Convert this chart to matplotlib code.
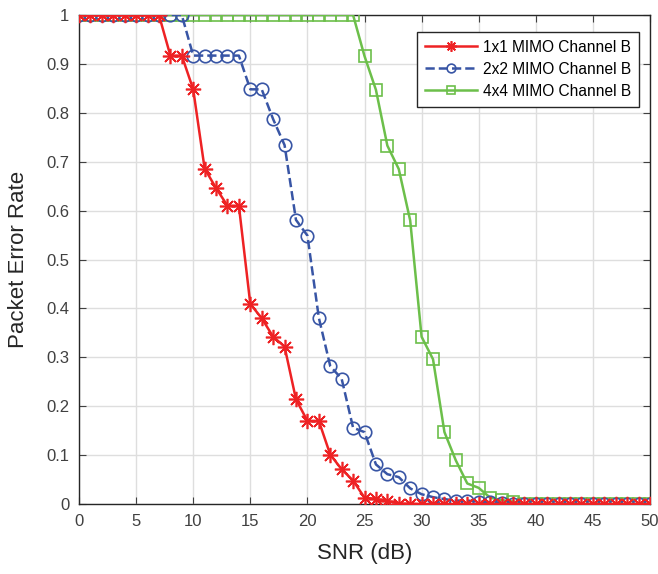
import numpy as np
import matplotlib
matplotlib.use('Agg')
from matplotlib import pyplot as plt

snr = list(range(0, 51))

# packet error rate, 0..50 dB
per_1x1 = [1, 1, 1, 1, 1, 1, 1, 1, 0.917, 0.917,
           0.848, 0.686, 0.646, 0.61, 0.61, 0.409, 0.38, 0.342, 0.322, 0.214,
           0.17, 0.17, 0.101, 0.071, 0.048, 0.013, 0.01, 0.006, 0.001, 0.001,
           0, 0, 0, 0, 0, 0, 0, 0, 0, 0,
           0, 0, 0, 0, 0, 0, 0, 0, 0, 0, 0]
per_2x2 = [1, 1, 1, 1, 1, 1, 1, 1, 1, 1,
           0.917, 0.917, 0.917, 0.917, 0.917, 0.848, 0.848, 0.787, 0.734, 0.581,
           0.549, 0.381, 0.282, 0.256, 0.156, 0.147, 0.081, 0.061, 0.055, 0.032,
           0.02, 0.014, 0.01, 0.007, 0.007, 0.005, 0.004, 0.002, 0.001, 0,
           0, 0, 0, 0, 0, 0, 0, 0, 0, 0, 0]
per_4x4 = [1, 1, 1, 1, 1, 1, 1, 1, 1, 1,
           1, 1, 1, 1, 1, 1, 1, 1, 1, 1,
           1, 1, 1, 1, 1, 0.916, 0.847, 0.733, 0.685, 0.58,
           0.342, 0.296, 0.147, 0.089, 0.042, 0.033, 0.013, 0.008, 0.005, 0.001,
           0, 0, 0, 0, 0, 0, 0, 0, 0, 0, 0]

labels = ['1x1 MIMO Channel B', '2x2 MIMO Channel B', '4x4 MIMO Channel B']

plt.rcParams['font.family'] = ['Liberation Sans', 'DejaVu Sans']

fig = plt.figure(figsize=(6.58, 5.74), dpi=100)
ax = fig.add_axes([79 / 658, 70 / 574, 571 / 658, 489 / 574])

ax.plot(snr, per_1x1, '-', color='#ee2224', lw=1.8, marker=(8, 2, 0), ms=11,
        mec='#ee2224', mew=1.2, label=labels[0], zorder=5)
ax.plot(snr, per_2x2, '--', color='#3855a5', lw=1.8, marker='o', ms=9,
        mfc='none', mec='#3855a5', mew=1.2, label=labels[1], zorder=4)
ax.plot(snr, per_4x4, '-', color='#6cbf4a', lw=1.8, marker='s', ms=8,
        mfc='none', mec='#6cbf4a', mew=1.2, label=labels[2], zorder=3)

ax.set_xlim(0, 50)
ax.set_ylim(0, 1)
ax.set_xticks(np.arange(0, 51, 5))
ax.set_yticks(np.arange(0, 1.01, 0.1))
ax.set_yticklabels(['0', '0.1', '0.2', '0.3', '0.4', '0.5', '0.6', '0.7', '0.8', '0.9', '1'])
ax.grid(True, color='#dedede', lw=1)
ax.set_axisbelow(True)
ax.tick_params(direction='in', top=True, right=True, labelsize=12, colors='#404040',
               length=5, pad=7)
for s in ax.spines.values():
    s.set_color('#262626')
    s.set_linewidth(1)

ax.set_xlabel('SNR (dB)', fontsize=16, color='#262626', labelpad=10)
ax.set_ylabel('Packet Error Rate', fontsize=16, color='#262626', labelpad=12)

leg = ax.legend(loc='upper right', bbox_to_anchor=(0.981, 0.965), borderaxespad=0,
                fontsize=11.2, fancybox=False, edgecolor='#262626', framealpha=1,
                handlelength=3.35, handletextpad=0.4, borderpad=0.5,
                labelspacing=0.45, markerscale=0.7)
leg.get_frame().set_linewidth(1)

fig.savefig('out.png', dpi=100)
